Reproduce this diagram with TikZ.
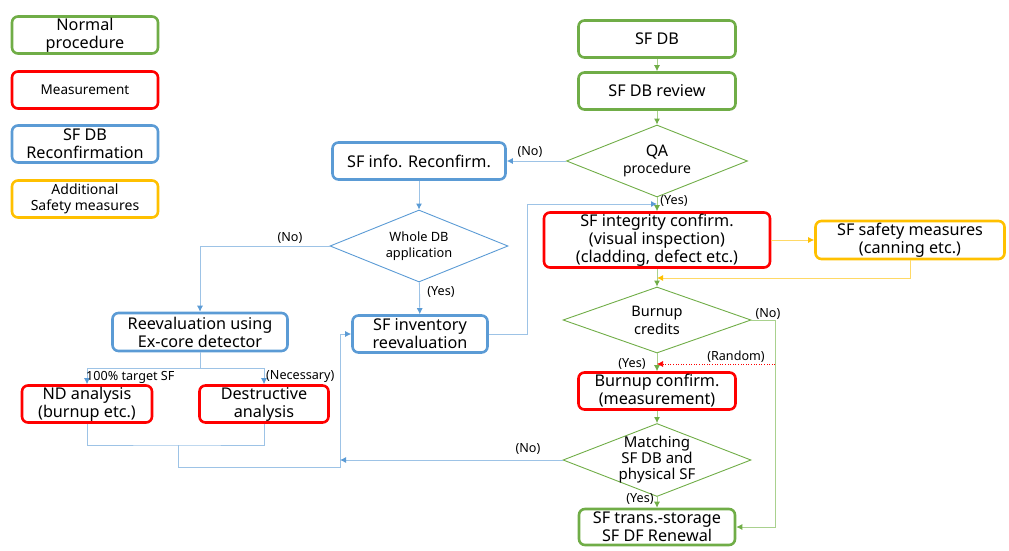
\documentclass[tikz,border=0pt]{standalone}
\usepackage{fontspec}
\setmainfont{Noto Sans}
\usetikzlibrary{arrows.meta}
\usetikzlibrary{positioning}
\usetikzlibrary{shapes.geometric}
\definecolor{boxgreen}{RGB}{112,173,71}
\definecolor{boxred}{RGB}{255,0,0}
\definecolor{boxblue}{RGB}{91,155,213}
\definecolor{boxgold}{RGB}{255,192,0}
\definecolor{linegreen}{RGB}{169,209,142}
\definecolor{lineblue}{RGB}{157,195,230}
\definecolor{linegold}{RGB}{255,217,102}

\tikzset{
  flowbox/.style={draw, rounded corners=6pt, line width=2.6pt, align=center, inner sep=1pt,
    font=\fontsize{16.2}{18}\selectfont},
  normbox/.style={flowbox, draw=boxgreen},
  measbox/.style={flowbox, draw=boxred},
  confbox/.style={flowbox, draw=boxblue},
  safebox/.style={flowbox, draw=boxgold},
  decision/.style={diamond, draw=boxgreen, line width=0.9pt, inner sep=0pt},
  gline/.style={draw=linegreen, line width=0.9pt, -{Latex[length=6pt,width=6pt,color=boxgreen]}},
  bline/.style={draw=lineblue, line width=0.9pt, -{Latex[length=6pt,width=6pt,color=boxblue]}},
  bplain/.style={draw=lineblue, line width=0.9pt},
  yline/.style={draw=linegold, line width=0.9pt, -{Latex[length=6pt,width=6pt,color=boxgold]}},
  rline/.style={draw=boxred, line width=0.6pt, dotted, -{Latex[length=6pt,width=6pt,color=boxred]}},
  lbl/.style={font=\fontsize{12.6}{14}\selectfont, inner sep=1pt}
}

\begin{document}
\begin{tikzpicture}[x=1pt,y=-1pt]
\useasboundingbox (0,0) rectangle (1009,551);

% legend
\node[normbox, minimum width=146pt, minimum height=37pt] (lgnorm) at (85,35) {Normal\\procedure};
\node[measbox, minimum width=146pt, minimum height=37pt, font=\fontsize{13.5}{16}\selectfont] (lgmeas) at (85,90) {Measurement};
\node[confbox, minimum width=146pt, minimum height=37pt] (lgconf) at (85,144) {SF DB\\Reconfirmation};
\node[safebox, minimum width=146pt, minimum height=37pt, font=\fontsize{14}{16}\selectfont] (lgsafe) at (85,199) {Additional\\Safety measures};

% main column
\node[normbox, minimum width=157pt, minimum height=37pt] (sfdb) at (657,39) {SF DB};
\node[normbox, minimum width=157pt, minimum height=37pt] (review) at (657,91) {SF DB review};
\node[decision, minimum width=181pt, minimum height=72pt,
  label={[align=center, font=\fontsize{14}{17}\selectfont]center:{\fontsize{16}{17}\selectfont QA}\\procedure}] (qa) at (657,161) {};
\node[measbox, minimum width=226pt, minimum height=55pt] (integ) at (657,240) {SF integrity confirm.\\(visual inspection)\\(cladding, defect etc.)};
\node[safebox, minimum width=189pt, minimum height=38pt] (safe) at (910,240) {SF safety measures\\(canning etc.)};
\node[decision, minimum width=188pt, minimum height=66pt,
  label={[align=center, font=\fontsize{14.5}{18}\selectfont]center:Burnup\\credits}] (credits) at (657,320) {};
\node[measbox, minimum width=157pt, minimum height=37pt] (bconf) at (657,391) {Burnup confirm.\\(measurement)};
\node[decision, minimum width=188pt, minimum height=73pt,
  label={[align=center, font=\fontsize{15}{16}\selectfont]center:Matching\\SF DB and\\physical SF}] (match) at (657,460) {};
\node[normbox, minimum width=156pt, minimum height=36pt] (trans) at (657,527) {SF trans.-storage\\SF DF Renewal};

% reconfirmation branch
\node[confbox, minimum width=173pt, minimum height=37pt] (info) at (419,161) {SF info. Reconfirm.};
\node[decision, draw=boxblue, minimum width=178pt, minimum height=72pt,
  label={[align=center, font=\fontsize{12.8}{16}\selectfont]center:Whole DB\\application}] (whole) at (419,246) {};
\node[confbox, minimum width=135pt, minimum height=37pt] (inv) at (420,334) {SF inventory\\reevaluation};
\node[confbox, minimum width=175pt, minimum height=38pt] (reeval) at (200,332) {Reevaluation using\\Ex-core detector};
\node[measbox, minimum width=130pt, minimum height=37pt] (nd) at (87,404) {ND analysis\\(burnup etc.)};
\node[measbox, minimum width=129pt, minimum height=37pt] (destr) at (264,404) {Destructive\\analysis};

\coordinate (merge) at (657,204);
\coordinate (invturn) at (527,334);
\coordinate (rejoin) at (657,278);
\coordinate (noturn) at (775,320);
\coordinate (randfrom) at (775,364);
\coordinate (randto) at (657,364);
\coordinate (split) at (200,368);
\coordinate (collect) at (178,445);
\coordinate (backbus) at (340,467);

% normal procedure
\draw[gline] (sfdb) -- (review);
\draw[gline] (review) -- (qa);
\draw[gline] (qa) -- (integ);
\draw[gline] (integ) -- (credits);
\draw[gline] (credits) -- (bconf);
\draw[gline] (bconf) -- (match);
\draw[gline] (match) -- (trans);
\draw[gline] (credits.east) -- (noturn) |- (trans.east);
\draw[rline] (randfrom) -- (randto);

% safety measures
\draw[yline] (integ.east) -- (safe.west);
\draw[yline] (safe.south) |- (rejoin);

% reconfirmation
\draw[bline] (qa.west) -- (info.east);
\draw[bline] (info) -- (whole);
\draw[bline] (whole) -- (inv);
\draw[bline] (whole.west) -| (reeval.north);
\draw[bline] (inv.east) -- (invturn) |- (merge);
\draw[bplain] (reeval.south) -- (split);
\draw[bline] (split) -| (nd.north);
\draw[bline] (split) -| (destr.north);
\draw[bplain] (nd.south) |- (collect) -| (destr.south);
\draw[bline] (collect) |- (backbus) |- (inv.west);
\draw[bline] (match.west) -- (backbus |- match.west);

% labels
\node[lbl] (noqa) at (530,152) {(No)};
\node[lbl] (yesqa) at (674,201) {(Yes)};
\node[lbl] (nowhole) at (290,238) {(No)};
\node[lbl] (yeswhole) at (441,292) {(Yes)};
\node[lbl, anchor=west] (target) at (85,377) {100\% target SF};
\node[lbl, anchor=west] (necess) at (265,377) {(Necessary)};
\node[lbl] (nocred) at (768,314) {(No)};
\node[lbl] (random) at (736,357) {(Random)};
\node[lbl] (yescred) at (632,364) {(Yes)};
\node[lbl] (nomatch) at (528,449) {(No)};
\node[lbl] (yesmatch) at (640,499) {(Yes)};
\end{tikzpicture}
\end{document}
